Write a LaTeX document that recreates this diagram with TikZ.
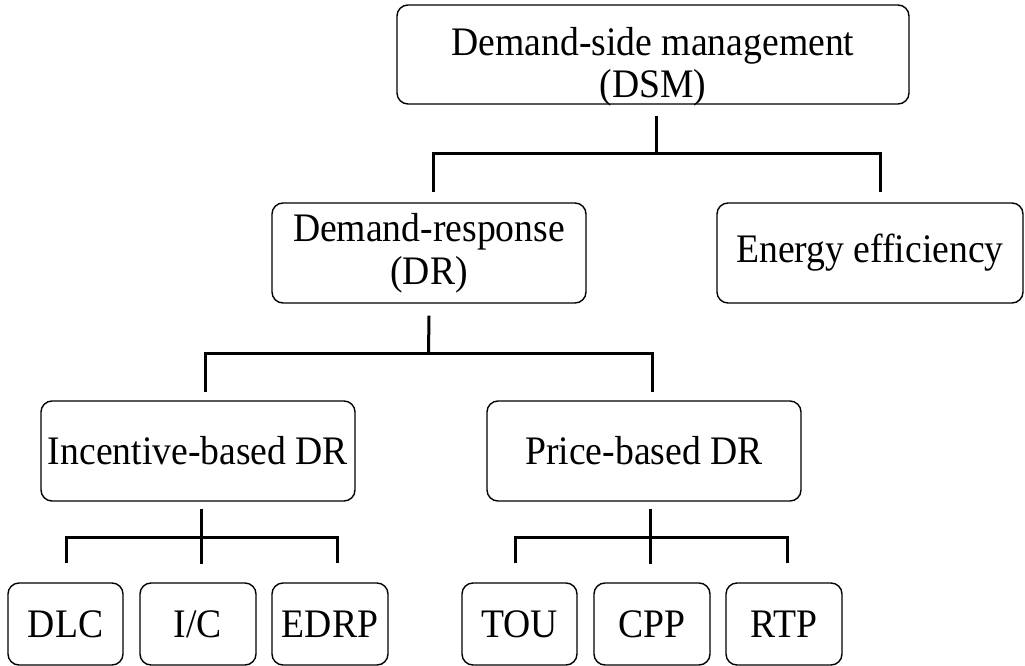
\documentclass[tikz,border=0pt]{standalone}
\usepackage{fontspec}
\setmainfont{Liberation Serif}[FakeStretch=0.93]
\begin{document}
\begin{tikzpicture}[x=1pt,y=-1pt,
  box/.style={draw, line width=1.4pt, rounded corners=11pt, align=center, inner sep=0pt,
              font=\fontsize{40.5}{43}\selectfont},
  lbl/.style={align=center, inner sep=0pt, font=\fontsize{40.5}{42}\selectfont},
  conn/.style={line width=3pt, line join=miter}]
\useasboundingbox (0,0) rectangle (1025,666);
% level 0
\node[box, minimum width=512, minimum height=99,
      label={[lbl, yshift=-12pt]center:{Demand-side management\\(DSM)}}] (dsm) at (653,54.5) {};
% level 1
\node[box, minimum width=314, minimum height=100] (dr) at (429,253) {Demand-response\\(DR)};
\node[box, minimum width=306, minimum height=100] (ee) at (870,253) {Energy efficiency};
% level 2
\node[box, minimum width=314, minimum height=100] (inc) at (198,451) {Incentive-based DR};
\node[box, minimum width=314, minimum height=100] (pr) at (644,451) {Price-based DR};
% level 3
\node[box, minimum width=115, minimum height=82] (dlc) at (65.5,624) {DLC};
\node[box, minimum width=116, minimum height=82] (ic) at (198,624) {I/C};
\node[box, minimum width=116, minimum height=82] (edrp) at (330,624) {EDRP};
\node[box, minimum width=115, minimum height=82] (tou) at (519.5,624) {TOU};
\node[box, minimum width=116, minimum height=82] (cpp) at (652,624) {CPP};
\node[box, minimum width=116, minimum height=82] (rtp) at (784,624) {RTP};
% bus points
\coordinate (b1) at (656.5,153);
\coordinate (b2) at (428.5,353);
\coordinate (b3) at (201.5,537);
\coordinate (b4) at (651,537);
% DSM tier
\draw[conn] ([xshift=3.5pt,yshift=-11pt]dsm.south) -- (b1);
\draw[conn] ([xshift=4pt,yshift=10pt]dr.north) |- (b1) -| ([xshift=10pt,yshift=10pt]ee.north);
% DR tier
\draw[conn] ([yshift=-12pt]dr.south) -- (b2);
\draw[conn] ([xshift=7pt,yshift=8pt]inc.north) |- (b2) -| ([xshift=8pt,yshift=8pt]pr.north);
% Incentive tier
\draw[conn] ([xshift=3pt,yshift=-7pt]inc.south) -- ([xshift=3pt,yshift=18pt]ic.north);
\draw[conn] ([xshift=0.5pt,yshift=19pt]dlc.north) |- (b3) -| ([xshift=7pt,yshift=19pt]edrp.north);
% Price tier
\draw[conn] ([xshift=6pt,yshift=-7pt]pr.south) -- ([xshift=-2pt,yshift=18pt]cpp.north);
\draw[conn] ([xshift=-4.5pt,yshift=19pt]tou.north) |- (b4) -| ([xshift=3pt,yshift=19pt]rtp.north);
\end{tikzpicture}
\end{document}
